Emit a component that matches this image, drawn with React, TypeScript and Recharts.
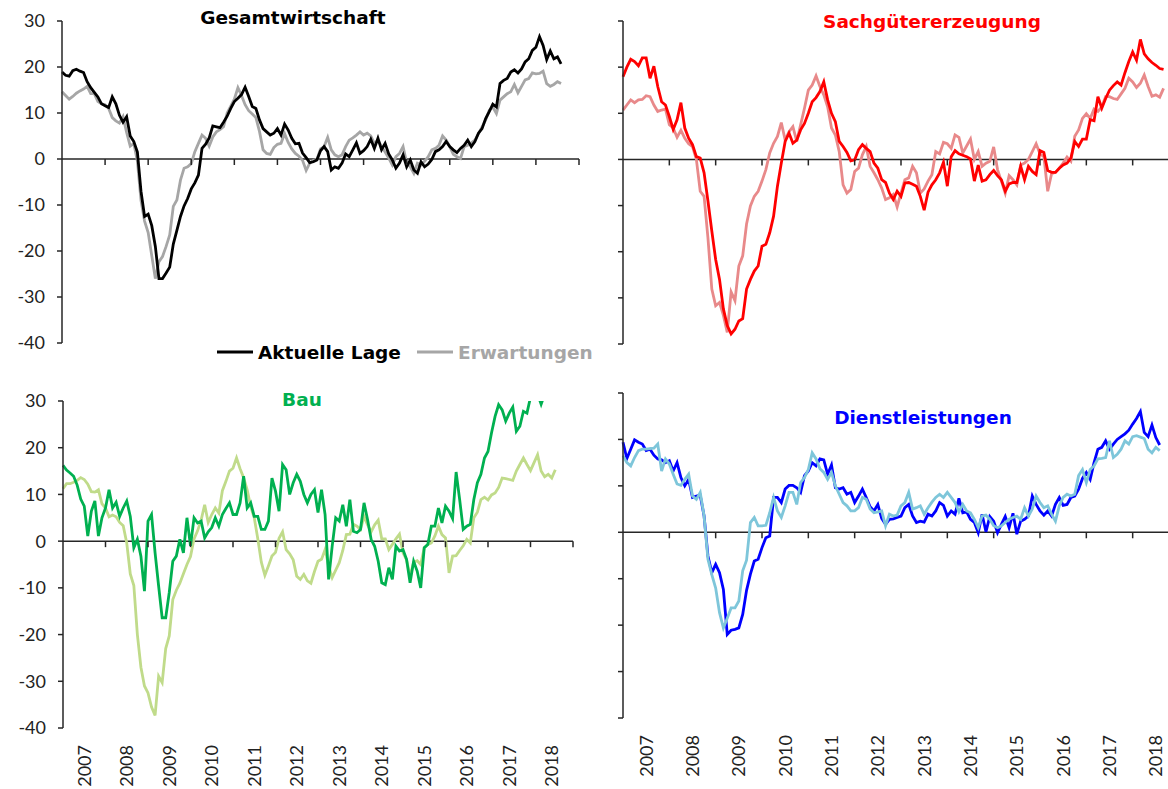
import React from "react";
import { LineChart, Line, XAxis, YAxis, ReferenceLine, ReferenceDot } from "recharts";

// monthly values, Jan 2007 onward
const years = ["2007", "2008", "2009", "2010", "2011", "2012", "2013", "2014", "2015", "2016", "2017", "2018"];
const yearMids = [6, 18, 30, 42, 54, 66, 78, 90, 102, 114, 126, 138];
const yearStarts = [12, 24, 36, 48, 60, 72, 84, 96, 108, 120, 132, 144];
const yTicks = [30, 20, 10, 0, -10, -20, -30, -40];

const gesamtLage = [
  18.9, 18.2, 18.0, 19.2, 19.5, 19.1, 18.8, 16.8, 15.5, 14.5,
  13.5, 12.0, 11.6, 11.2, 13.5, 12.0, 9.5, 8.0, 9.2, 5.0,
  3.8, 1.5, -7.0, -12.5, -12.0, -14.5, -19.0, -26.0, -26.0, -24.8,
  -23.5, -18.5, -15.5, -12.5, -10.2, -8.6, -6.5, -5.2, -3.5, 2.3,
  3.2, 4.6, 7.2, 7.0, 6.8, 8.0, 9.3, 11.0, 12.5, 13.2,
  14.0, 15.6, 13.6, 11.4, 11.0, 8.5, 6.6, 5.9, 5.2, 5.6,
  6.6, 5.2, 7.6, 6.3, 4.5, 3.3, 3.4, 1.3, 0.3, -0.8,
  -0.6, -0.2, 1.8, 2.7, 1.6, -2.4, -1.7, -2.0, -0.9, 1.1,
  0.5, 2.0, 3.5, 1.2, 1.8, 2.7, 4.3, 2.3, 4.5, 2.0,
  3.4, 1.1, -0.2, -2.0, -0.9, 0.9, -1.7, -0.2, -2.4, -3.1,
  -0.6, -1.7, -1.1, -0.1, 1.6, 2.0, 2.7, 3.8, 2.7, 2.0,
  1.4, 2.3, 3.0, 4.1, 2.7, 3.8, 5.6, 6.6, 8.8, 10.3,
  11.9, 11.3, 16.4, 17.1, 17.5, 18.9, 19.4, 18.7, 19.6, 21.1,
  21.8, 23.6, 24.3, 26.6, 24.7, 21.6, 23.5, 21.8, 22.2, 20.7,
];
const gesamtErw = [
  14.6, 13.8, 13.0, 13.6, 14.3, 14.8, 15.2, 15.8, 14.2, 14.2,
  12.5, 12.0, 11.8, 11.0, 9.0, 8.3, 7.8, 9.2, 5.8, 2.8,
  3.4, -0.5, -9.0, -13.5, -16.0, -21.0, -26.0, -22.3, -21.2, -19.0,
  -16.5, -10.3, -8.9, -4.6, -2.0, -1.7, -1.0, 1.6, 3.4, 5.2,
  4.5, 2.8, 4.8, 5.9, 6.4, 7.0, 10.0, 11.5, 13.0, 15.5,
  13.8, 11.8, 10.5, 9.8, 9.0, 6.0, 2.0, 1.2, 1.0, 2.5,
  3.2, 3.4, 5.5, 3.6, 2.2, 1.2, 0.6, -0.3, -2.5, -0.9,
  -0.3, -0.1, 2.2, 2.7, 4.7, 2.0, 0.9, 0.5, 0.9, 2.7,
  4.1, 4.6, 5.2, 5.9, 5.2, 5.6, 5.0, 3.4, 4.1, 2.7,
  1.5, 0.2, -1.3, 0.5, 1.2, 2.7, -0.9, -1.7, -3.1, -0.9,
  -1.3, -0.5, 0.5, 2.0, 2.3, 3.0, 5.0, 4.1, 2.7, 1.0,
  0.5, 0.1, 2.7, 3.0, 3.5, 4.1, 5.5, 7.0, 8.5, 10.6,
  11.3, 9.9, 12.8, 13.5, 14.2, 14.6, 16.2, 14.4, 15.8, 17.2,
  17.5, 18.7, 18.5, 18.6, 19.1, 16.4, 15.8, 16.2, 16.8, 16.4,
];

const sachLage = [
  17.9, 20.0, 21.7, 21.2, 20.3, 22.0, 22.0, 17.6, 20.2, 15.8,
  12.5, 11.8, 9.3, 6.5, 8.6, 12.3, 6.8, 4.6, 3.2, 0.6,
  0.3, -2.9, -9.0, -15.5, -21.7, -26.0, -32.4, -36.0, -37.8, -36.8,
  -35.0, -34.5, -28.1, -26.0, -24.2, -23.1, -18.8, -18.4, -15.9, -12.3,
  -5.8, -0.8, 3.9, 5.7, 3.5, 4.2, 6.4, 7.8, 10.0, 12.5,
  13.4, 14.7, 16.8, 12.9, 10.0, 8.2, 3.9, 2.8, 1.5, -0.3,
  -0.1, 2.1, 3.2, 2.4, 1.7, -0.8, -1.9, -4.4, -5.0, -7.3,
  -8.7, -6.9, -8.0, -5.1, -5.0, -5.4, -5.8, -8.0, -11.0, -7.1,
  -5.5, -4.4, -2.9, -0.6, -5.8, 0.6, 1.9, 1.2, 0.9, 0.6,
  0.1, -4.7, -1.2, -4.7, -4.4, -3.3, -2.4, -3.5, -4.4, -6.9,
  -5.3, -5.0, -5.0, -1.5, -4.4, -1.5, -2.6, -3.3, 1.9, 1.5,
  -2.4, -2.8, -2.8, -1.9, -1.2, -0.8, 0.3, 3.9, 2.8, 4.4,
  4.4, 8.6, 8.4, 13.6, 11.1, 13.2, 15.0, 16.0, 16.8, 16.1,
  18.8, 21.2, 23.3, 21.5, 26.0, 22.9, 21.8, 21.0, 20.4, 19.7, 19.5,
];
const sachErw = [
  10.7, 11.8, 12.9, 12.3, 12.9, 13.0, 13.8, 13.6, 11.8, 10.4,
  10.7, 10.9, 7.5, 6.8, 4.8, 6.3, 4.6, 3.4, 2.8, 0.0,
  -6.9, -8.0, -17.0, -28.1, -31.7, -31.0, -33.8, -37.5, -28.7, -30.6,
  -23.1, -20.9, -14.0, -10.1, -8.0, -6.9, -4.7, -2.2, 1.4, 3.5,
  5.0, 8.0, 4.2, 6.0, 7.1, 3.9, 7.5, 11.1, 15.0, 16.1,
  18.1, 15.8, 14.0, 11.4, 6.8, 5.3, 1.7, -5.5, -7.3, -6.5,
  -2.6, -1.9, 1.0, 2.8, -1.5, -2.9, -4.4, -6.2, -8.7, -8.3,
  -7.6, -10.3, -7.3, -4.4, -4.0, -1.5, -2.9, -7.3, -6.4, -4.7,
  -3.3, 1.7, 1.2, 3.7, 3.4, 2.4, 5.3, 4.8, 1.4, 2.9,
  4.4, 0.0, 1.7, -1.5, -0.8, -0.4, 2.7, -2.2, -4.7, -7.3,
  -3.5, -4.4, -5.5, -1.2, -0.8, 0.0, 1.7, 3.4, 1.2, 0.6,
  -6.9, -3.1, -2.8, -1.9, -0.8, 0.5, -0.4, 5.0, 6.4, 8.9,
  9.9, 8.9, 10.9, 10.4, 11.4, 13.6, 13.6, 13.2, 13.0, 14.2,
  15.4, 17.6, 16.8, 15.6, 16.5, 18.3, 15.8, 13.7, 14.0, 13.5, 15.4,
];

const bauLage = [
  16.2, 15.2, 14.6, 13.9, 12.0, 9.0, 7.5, 1.1, 6.4, 8.6,
  1.1, 5.0, 7.1, 11.0, 7.1, 8.3, 5.3, 7.1, 8.6, 5.3,
  -1.4, 0.4, -3.2, -10.7, 4.3, 5.7, -2.5, -9.6, -16.4, -16.4,
  -11.0, -4.3, -3.2, 0.4, -2.5, 5.0, -1.0, 5.0, 3.9, 4.3,
  0.7, 2.0, 2.9, 5.0, 3.2, 5.7, 7.0, 8.2, 5.7, 5.7,
  8.2, 13.9, 7.1, 8.2, 5.3, 5.3, 2.5, 2.5, 4.3, 13.5,
  10.7, 6.4, 16.4, 15.3, 10.0, 12.5, 14.3, 12.8, 10.0, 8.2,
  10.0, 11.0, 6.1, 11.0, 5.7, -8.2, -1.1, 5.0, 4.3, 7.8,
  3.2, 8.9, 2.1, 1.8, 2.5, 8.2, 4.6, 0.4, -1.1, -4.3,
  -8.9, -9.3, -5.7, -8.2, -1.1, -2.1, -1.8, -3.9, -8.9, -4.3,
  -6.4, -10.0, -1.4, -0.7, 3.2, 3.2, 7.1, 3.9, 7.5, 6.4,
  4.8, 14.8, 8.9, 2.5, 3.2, 3.6, 8.9, 12.5, 14.3, 17.8,
  19.2, 23.2, 26.7, 29.2, 28.1, 25.7, 27.4, 28.7, 23.5, 24.6,
  27.8, 27.4, 30.8, 32.5, 31.5, 29.3, 31.5, 33.0, 34.0, 33.5,
];
const bauErw = [
  11.2, 12.3, 12.3, 12.6, 13.0, 13.6, 13.2, 12.2, 10.6, 10.5,
  11.0, 8.0, 7.1, 5.2, 5.6, 5.2, 4.0, 3.3, -0.4, -7.0,
  -9.5, -20.0, -27.0, -31.0, -32.5, -35.5, -37.3, -28.9, -30.3, -23.0,
  -20.3, -12.5, -10.5, -9.0, -7.0, -5.0, -3.3, 0.5, 2.2, 4.5,
  7.8, 4.0, 5.7, 7.1, 6.0, 10.8, 12.8, 15.0, 15.6, 17.8,
  15.5, 13.6, 11.0, 7.4, 5.0, 0.5, -4.5, -7.3, -5.3, -3.2,
  -2.4, 0.6, 2.0, -1.8, -2.7, -4.0, -7.5, -8.2, -7.1, -8.5,
  -9.0, -6.5, -4.3, -3.9, -1.8, -5.3, -7.8, -6.2, -4.6, -2.0,
  1.4, 1.5, 3.6, 3.2, 2.5, 5.3, 3.5, 2.0, 3.5, 4.5,
  0.5, 0.5, -1.8, -0.7, 0.5, 1.5, -2.5, -4.0, -7.5, -4.5,
  -4.2, -5.0, -1.4, -0.7, -0.4, 1.1, 3.2, 1.4, 0.7, -6.8,
  -3.2, -3.1, -2.0, -1.0, 0.4, -0.4, 5.0, 6.2, 8.9, 9.4,
  8.8, 9.9, 10.3, 11.5, 13.5, 13.4, 13.2, 13.0, 15.0, 16.4,
  17.8, 16.4, 15.1, 16.8, 18.5, 15.0, 13.8, 14.3, 13.5, 15.3,
];

const dienstLage = [
  19.4, 15.9, 17.9, 19.9, 19.4, 19.0, 17.6, 17.9, 16.6, 15.8,
  15.6, 15.0, 15.4, 13.2, 15.0, 11.8, 10.0, 11.4, 7.5, 7.8,
  8.0, 3.5, -5.1, -8.7, -6.9, -8.7, -12.3, -22.0, -21.1, -20.9,
  -20.6, -17.7, -12.5, -9.0, -6.2, -5.8, -3.3, -1.2, -0.8, 7.5,
  7.5, 6.4, 9.3, 10.1, 10.1, 9.6, 8.6, 12.2, 13.2, 15.0,
  14.3, 15.8, 15.6, 12.5, 14.5, 9.6, 9.3, 9.6, 8.2, 8.6,
  6.4, 7.8, 9.3, 7.5, 5.5, 4.6, 6.0, 3.0, 1.7, 2.8,
  2.9, 3.2, 3.5, 5.3, 6.0, 3.5, 2.1, 2.4, 2.2, 3.9,
  3.5, 4.6, 6.4, 5.8, 3.5, 4.6, 3.9, 7.3, 4.2, 4.4,
  2.8, 2.1, -0.1, 3.9, 0.1, 3.4, 2.4, -0.1, 1.7, 3.4,
  1.0, 4.1, -0.4, 2.4, 2.8, 3.5, 7.8, 6.0, 4.6, 3.7,
  4.6, 3.5, 6.0, 7.5, 5.8, 6.0, 7.5, 7.8, 9.3, 11.6,
  12.9, 11.4, 15.0, 17.9, 18.3, 19.7, 17.9, 19.0, 20.0, 20.6,
  21.2, 22.0, 23.3, 24.5, 26.0, 21.5, 20.6, 23.1, 20.4, 18.8,
];
const dienstErw = [
  16.5, 15.0, 14.3, 16.1, 17.6, 17.9, 17.9, 18.0, 18.1, 19.0,
  13.2, 15.8, 14.7, 12.5, 10.4, 10.1, 11.4, 12.5, 7.8, 7.1,
  8.6, 3.5, -5.8, -9.1, -12.0, -17.3, -20.6, -18.5, -16.3, -16.3,
  -14.8, -8.3, -6.0, 2.1, 3.2, 1.4, 1.4, 1.5, 4.2, 7.5,
  4.6, 3.2, 5.7, 8.6, 8.6, 6.0, 10.7, 11.8, 13.5, 17.1,
  15.8, 13.7, 12.9, 11.4, 12.9, 10.0, 8.2, 6.4, 5.7, 4.6,
  4.6, 5.3, 7.5, 7.1, 5.0, 4.2, 4.4, 4.6, 1.4, 3.9,
  3.5, 3.7, 5.7, 6.4, 8.6, 5.0, 5.3, 5.7, 3.9, 5.3,
  6.5, 7.5, 8.2, 7.5, 8.6, 7.5, 6.4, 4.4, 6.0, 4.6,
  4.2, 2.8, 1.0, 3.5, 3.7, 2.8, 1.4, 1.0, 1.4, 2.1,
  2.8, 3.2, 3.5, 2.8, 5.3, 3.5, 5.0, 7.8, 6.4, 5.3,
  5.7, 3.9, 2.4, 5.7, 7.5, 8.2, 7.8, 8.2, 12.2, 13.5,
  10.7, 13.5, 14.3, 15.8, 15.9, 16.1, 19.7, 16.1, 16.8, 17.9,
  19.7, 19.0, 20.6, 20.8, 20.5, 20.2, 17.9, 17.1, 18.3, 17.6,
];

const AXIS = "#262626";
const NUM_FONT = "Lato, 'DejaVu Sans', sans-serif";
const TITLE_FONT = "'DejaVu Sans', sans-serif";

function rows(lage: number[], erw: number[]) {
  const n = Math.max(lage.length, erw.length);
  return Array.from({ length: n }, (_, i) => ({ t: i, lage: lage[i], erw: erw[i] }));
}

function YearTick(props: any) {
  const { x, y, payload } = props;
  const label = years[yearMids.indexOf(payload.value)];
  const ty = y + 17;
  return (
    <text
      x={x}
      y={ty}
      transform={`rotate(-90, ${x}, ${ty})`}
      textAnchor="end"
      dy="0.36em"
      fontSize={18}
      fontFamily={NUM_FONT}
      fill="#222"
    >
      {label}
    </text>
  );
}

// small tick marks: below the zero line, and left of the value axis
function TickDown(props: any) {
  const { cx, cy } = props;
  return <line x1={cx} y1={cy} x2={cx} y2={cy + 6} stroke={AXIS} strokeWidth={1.5} />;
}
function TickLeft(props: any) {
  const { cx, cy } = props;
  return <line x1={cx - 5} y1={cy} x2={cx} y2={cy} stroke={AXIS} strokeWidth={1.5} />;
}

type PanelProps = {
  left: number;
  top: number;
  width: number;
  height: number;
  margin: { top: number; right: number; bottom: number; left: number };
  axisWidth: number;
  xHeight: number;
  showLabels: boolean;
  showYears: boolean;
  lage: number[];
  erw: number[];
  lageColor: string;
  erwColor: string;
  erwOnTop?: boolean;
};

function Panel(p: PanelProps) {
  const data = rows(p.lage, p.erw);
  const lageLine = (
    <Line key="lage" type="linear" dataKey="lage" stroke={p.lageColor} strokeWidth={2.8}
      dot={false} activeDot={false} isAnimationActive={false} />
  );
  const erwLine = (
    <Line key="erw" type="linear" dataKey="erw" stroke={p.erwColor} strokeWidth={2.8}
      dot={false} activeDot={false} isAnimationActive={false} />
  );
  return (
    <div style={{ position: "absolute", left: p.left, top: p.top }}>
      <LineChart width={p.width} height={p.height} data={data} margin={p.margin}>
        <XAxis
          dataKey="t"
          type="number"
          domain={[0, 144]}
          ticks={yearMids}
          interval={0}
          hide={!p.showYears}
          height={p.xHeight}
          axisLine={false}
          tickLine={false}
          tickSize={0}
          tickMargin={0}
          tick={<YearTick />}
        />
        <YAxis
          type="number"
          domain={[-40, 30]}
          ticks={yTicks}
          interval={0}
          allowDataOverflow
          width={p.axisWidth}
          axisLine={{ stroke: AXIS, strokeWidth: 1.5 }}
          tickLine={false}
          tickSize={5}
          tickMargin={12}
          tick={p.showLabels ? { fontSize: 18, fill: "#222", fontFamily: NUM_FONT } : false}
        />
        <ReferenceLine y={0} stroke={AXIS} strokeWidth={1.5} />
        {yearStarts.map((x) => (
          <ReferenceDot key={"x" + x} x={x} y={0} r={1} shape={TickDown} />
        ))}
        {yTicks.map((v) => (
          <ReferenceDot key={"y" + v} x={0} y={v} r={1} shape={TickLeft} />
        ))}
        {p.erwOnTop ? [lageLine, erwLine] : [erwLine, lageLine]}
      </LineChart>
    </div>
  );
}

export default function App() {
  return (
    <div style={{ position: "absolute", left: 0, top: 0, width: 1168, height: 789, overflow: "hidden", background: "#fff" }}>
      <Panel left={0} top={0} width={600} height={380} margin={{ top: 21, right: 21, bottom: 37, left: 0 }}
        axisWidth={62} xHeight={0} showLabels showYears={false}
        lage={gesamtLage} erw={gesamtErw} lageColor="#000000" erwColor="#A6A6A6" />
      <Panel left={560} top={0} width={640} height={380} margin={{ top: 21, right: 21, bottom: 36, left: 0 }}
        axisWidth={63} xHeight={0} showLabels={false} showYears={false}
        lage={sachLage} erw={sachErw} lageColor="#FF0000" erwColor="#E8898A" />
      <Panel left={0} top={380} width={600} height={409} margin={{ top: 21, right: 27, bottom: 0, left: 0 }}
        axisWidth={63} xHeight={61} showLabels showYears
        lage={bauLage} erw={bauErw} lageColor="#00B050" erwColor="#C0DB8A" />
      <Panel left={560} top={380} width={640} height={409} margin={{ top: 13, right: 21, bottom: 0, left: 0 }}
        axisWidth={63} xHeight={71} showLabels={false} showYears
        lage={dienstLage} erw={dienstErw} lageColor="#0000FF" erwColor="#7EC6DA" erwOnTop />
      <svg width={1168} height={789} style={{ position: "absolute", left: 0, top: 0, pointerEvents: "none" }}>
        <g fontFamily={TITLE_FONT} fontWeight="bold" fontSize={18.5}>
          <text x={293} y={23.5} textAnchor="middle" fill="#000000">Gesamtwirtschaft</text>
          <text x={932} y={28} textAnchor="middle" fill="#FF0000">Sachgütererzeugung</text>
          <text x={302} y={406} textAnchor="middle" fill="#00B050">Bau</text>
          <text x={923} y={423.5} textAnchor="middle" fill="#0000FF">Dienstleistungen</text>
          <line x1={217} y1={352} x2={253} y2={352} stroke="#000000" strokeWidth={2.8} />
          <text x={258} y={358.5} fill="#000000">Aktuelle Lage</text>
          <line x1={417} y1={352} x2={453} y2={352} stroke="#A6A6A6" strokeWidth={2.8} />
          <text x={458} y={358.5} fill="#A6A6A6">Erwartungen</text>
        </g>
      </svg>
    </div>
  );
}
